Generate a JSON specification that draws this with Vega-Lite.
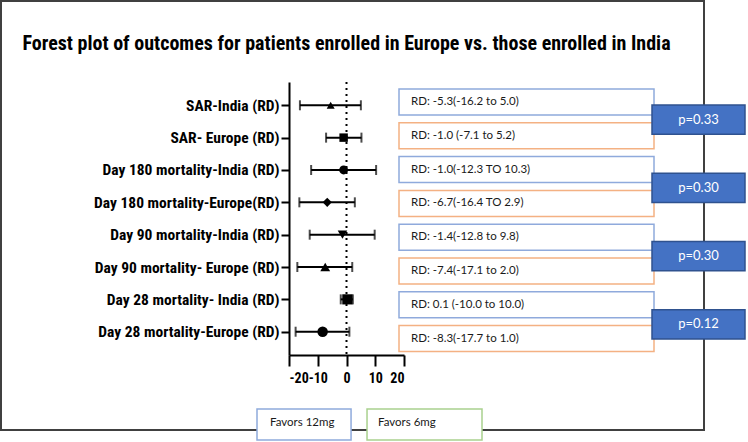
{
  "$schema": "https://vega.github.io/schema/vega-lite/v6.json",
  "autosize": {"type": "none"},
  "width": 115,
  "height": 273,
  "padding": {"left": 289, "top": 82, "right": 344, "bottom": 87},
  "background": "white",
  "config": {"view": {"stroke": null}},
  "title": {
    "text": "Forest plot of outcomes for patients enrolled in Europe vs. those enrolled in India",
    "font": "Roboto Condensed, Liberation Sans Narrow, DejaVu Sans Condensed, sans-serif",
    "fontSize": 20,
    "fontWeight": "bold",
    "color": "black",
    "anchor": "middle",
    "frame": "group",
    "offset": -54
  },
  "datasets": {
    "forest": [
      {"outcome": "SAR-India (RD)", "region": "India", "est": -5.5, "lo": -16.2, "hi": 5.0, "label": "RD: -5.3(-16.2 to 5.0)"},
      {"outcome": "SAR- Europe (RD)", "region": "Europe", "est": -1.0, "lo": -7.1, "hi": 5.2, "label": "RD: -1.0 (-7.1 to 5.2)"},
      {"outcome": "Day 180 mortality-India (RD)", "region": "India", "est": -1.0, "lo": -12.3, "hi": 10.3, "label": "RD: -1.0(-12.3 TO 10.3)"},
      {"outcome": "Day 180 mortality-Europe(RD)", "region": "Europe", "est": -6.7, "lo": -16.4, "hi": 2.9, "label": "RD: -6.7(-16.4 TO 2.9)"},
      {"outcome": "Day 90 mortality-India (RD)", "region": "India", "est": -1.4, "lo": -12.8, "hi": 9.8, "label": "RD: -1.4(-12.8 to 9.8)"},
      {"outcome": "Day 90 mortality- Europe (RD)", "region": "Europe", "est": -7.4, "lo": -17.1, "hi": 2.0, "label": "RD: -7.4(-17.1 to 2.0)"},
      {"outcome": "Day 28 mortality- India (RD)", "region": "India", "est": 0.3, "lo": -2.0, "hi": 2.2, "label": "RD: 0.1 (-10.0 to 10.0)"},
      {"outcome": "Day 28 mortality-Europe (RD)", "region": "Europe", "est": -8.3, "lo": -17.7, "hi": 1.0, "label": "RD: -8.3(-17.7 to 1.0)"}
    ],
    "pvals": [
      {"pair": "SAR", "p": "p=0.33"},
      {"pair": "Day 180", "p": "p=0.30"},
      {"pair": "Day 90", "p": "p=0.30"},
      {"pair": "Day 28", "p": "p=0.12"}
    ]
  },
  "layer": [
    {
      "data": {"values": [{"frame": "outer"}]},
      "mark": {"type": "rect", "fill": null, "stroke": "#404040", "strokeWidth": 2},
      "encoding": {
        "x": {"datum": 0, "type": "quantitative", "scale": {"domain": [0, 1], "range": [-288, 415]}, "axis": null},
        "x2": {"datum": 1},
        "y": {"datum": 0, "type": "quantitative", "scale": {"domain": [0, 1], "range": [-81, 348]}, "axis": null},
        "y2": {"datum": 1}
      }
    },
    {
      "data": {"name": "forest"},
      "encoding": {
        "x": {"type": "quantitative", "scale": {"domain": [-20, 20], "nice": false, "zero": false},
          "axis": {"values": [-20, -10, 0, 10, 20], "labelExpr": "toString(datum.value)", "labelOverlap": false, "title": null, "grid": false, "domainColor": "black", "domainWidth": 2, "tickColor": "black", "tickWidth": 2, "tickSize": 11, "labelFont": "Roboto Condensed, Liberation Sans Narrow, DejaVu Sans Condensed, sans-serif", "labelFontSize": 14, "labelFontWeight": "bold", "labelColor": "black", "labelPadding": 5}}
      },
      "layer": [
        {
          "data": {"values": [{"ref": 0}]},
          "mark": {"type": "rule", "strokeDash": [2, 4], "strokeWidth": 2, "color": "black"},
          "encoding": {"x": {"datum": 0, "type": "quantitative"}}
        },
        {
          "mark": {"type": "rule", "strokeWidth": 2, "color": "black"},
          "encoding": {
            "x": {"field": "lo", "type": "quantitative"},
            "x2": {"field": "hi"},
            "y": {"field": "outcome", "type": "nominal", "sort": null, "scale": {"type": "point", "padding": 0.72},
              "axis": {"title": null, "labelFont": "Roboto Condensed, Liberation Sans Narrow, DejaVu Sans Condensed, sans-serif", "labelFontSize": 15.5, "labelFontWeight": "bold", "labelColor": "black", "labelLimit": 400, "labelPadding": 2, "domainColor": "black", "domainWidth": 2, "tickColor": "black", "tickWidth": 2, "tickSize": 8}}
          }
        },
        {
          "mark": {"type": "tick", "orient": "vertical", "size": 10, "thickness": 2, "color": "black"},
          "encoding": {
            "x": {"field": "lo", "type": "quantitative"},
            "y": {"field": "outcome", "type": "nominal", "sort": null}
          }
        },
        {
          "mark": {"type": "tick", "orient": "vertical", "size": 10, "thickness": 2, "color": "black"},
          "encoding": {
            "x": {"field": "hi", "type": "quantitative"},
            "y": {"field": "outcome", "type": "nominal", "sort": null}
          }
        },
        {
          "mark": {"type": "point", "filled": true, "opacity": 1, "color": "black"},
          "encoding": {
            "x": {"field": "est", "type": "quantitative"},
            "y": {"field": "outcome", "type": "nominal", "sort": null},
            "shape": {"field": "outcome", "type": "nominal", "legend": null,
              "scale": {"domain": ["SAR-India (RD)", "SAR- Europe (RD)", "Day 180 mortality-India (RD)", "Day 180 mortality-Europe(RD)", "Day 90 mortality-India (RD)", "Day 90 mortality- Europe (RD)", "Day 28 mortality- India (RD)", "Day 28 mortality-Europe (RD)"],
                "range": ["triangle-up", "square", "circle", "diamond", "triangle-down", "triangle-up", "square", "circle"]}},
            "size": {"field": "outcome", "type": "ordinal", "legend": null,
              "scale": {"domain": ["SAR-India (RD)", "SAR- Europe (RD)", "Day 180 mortality-India (RD)", "Day 180 mortality-Europe(RD)", "Day 90 mortality-India (RD)", "Day 90 mortality- Europe (RD)", "Day 28 mortality- India (RD)", "Day 28 mortality-Europe (RD)"],
                "range": [65, 110, 95, 35, 60, 60, 80, 80]}}
          }
        }
      ]
    },
    {
      "data": {"name": "forest"},
      "encoding": {
        "y": {"field": "outcome", "type": "nominal", "sort": null, "axis": null,
          "scale": {"type": "band", "range": [7, 269.6], "paddingInner": 0.23, "paddingOuter": 0}}
      },
      "layer": [
        {
          "mark": {"type": "rect", "fill": "white", "strokeWidth": 1.5},
          "encoding": {
            "x": {"datum": 0, "type": "quantitative", "scale": {"domain": [0, 1], "range": [110, 365]}, "axis": null},
            "x2": {"datum": 1},
            "stroke": {"field": "region", "type": "nominal", "legend": null, "scale": {"domain": ["India", "Europe"], "range": ["#8FAADC", "#F4B183"]}}
          }
        },
        {
          "mark": {"type": "text", "align": "left", "baseline": "middle", "dx": 12, "font": "Lato, Open Sans, sans-serif", "fontSize": 11.5, "color": "#1a1a1a"},
          "encoding": {
            "x": {"datum": 0, "type": "quantitative"},
            "text": {"field": "label"}
          }
        }
      ]
    },
    {
      "data": {"name": "pvals"},
      "encoding": {
        "y": {"field": "pair", "type": "nominal", "sort": null, "axis": null,
          "scale": {"type": "band", "range": [23, 257], "paddingInner": 0.57, "paddingOuter": 0}}
      },
      "layer": [
        {
          "mark": {"type": "rect", "fill": "#4472C4", "stroke": "#2F528F", "strokeWidth": 1.5},
          "encoding": {
            "x": {"datum": 0, "type": "quantitative", "scale": {"domain": [0, 1], "range": [363, 456]}, "axis": null},
            "x2": {"datum": 1}
          }
        },
        {
          "mark": {"type": "text", "align": "center", "baseline": "middle", "font": "Lato, Open Sans, sans-serif", "fontSize": 13, "color": "white"},
          "encoding": {
            "x": {"datum": 0.5, "type": "quantitative"},
            "text": {"field": "p"}
          }
        }
      ]
    },
    {
      "data": {"values": [{"label": "Favors 12mg"}, {"label": "Favors 6mg"}]},
      "encoding": {
        "y": {"datum": 0, "type": "quantitative", "scale": {"domain": [0, 1], "range": [327, 358]}, "axis": null}
      },
      "layer": [
        {
          "transform": [{"filter": "datum.label === 'Favors 12mg'"}],
          "mark": {"type": "rect", "fill": "white", "stroke": "#8FAADC", "strokeWidth": 1.5},
          "encoding": {
            "x": {"datum": 0, "type": "quantitative", "scale": {"domain": [0, 1], "range": [-32, 193]}, "axis": null},
            "x2": {"datum": 0.418},
            "y2": {"datum": 1}
          }
        },
        {
          "transform": [{"filter": "datum.label === 'Favors 6mg'"}],
          "mark": {"type": "rect", "fill": "white", "stroke": "#A9D18E", "strokeWidth": 1.5},
          "encoding": {
            "x": {"datum": 0.489, "type": "quantitative"},
            "x2": {"datum": 1},
            "y2": {"datum": 1}
          }
        },
        {
          "transform": [{"filter": "datum.label === 'Favors 12mg'"}],
          "mark": {"type": "text", "align": "left", "baseline": "middle", "font": "Lato, Open Sans, sans-serif", "fontSize": 11.5, "color": "#1a1a1a"},
          "encoding": {
            "x": {"datum": 0.058, "type": "quantitative"},
            "y": {"datum": 0.45, "type": "quantitative"},
            "text": {"field": "label"}
          }
        },
        {
          "transform": [{"filter": "datum.label === 'Favors 6mg'"}],
          "mark": {"type": "text", "align": "left", "baseline": "middle", "font": "Lato, Open Sans, sans-serif", "fontSize": 11.5, "color": "#1a1a1a"},
          "encoding": {
            "x": {"datum": 0.538, "type": "quantitative"},
            "y": {"datum": 0.45, "type": "quantitative"},
            "text": {"field": "label"}
          }
        }
      ]
    }
  ],
  "resolve": {"scale": {"x": "independent", "y": "independent"}}
}
